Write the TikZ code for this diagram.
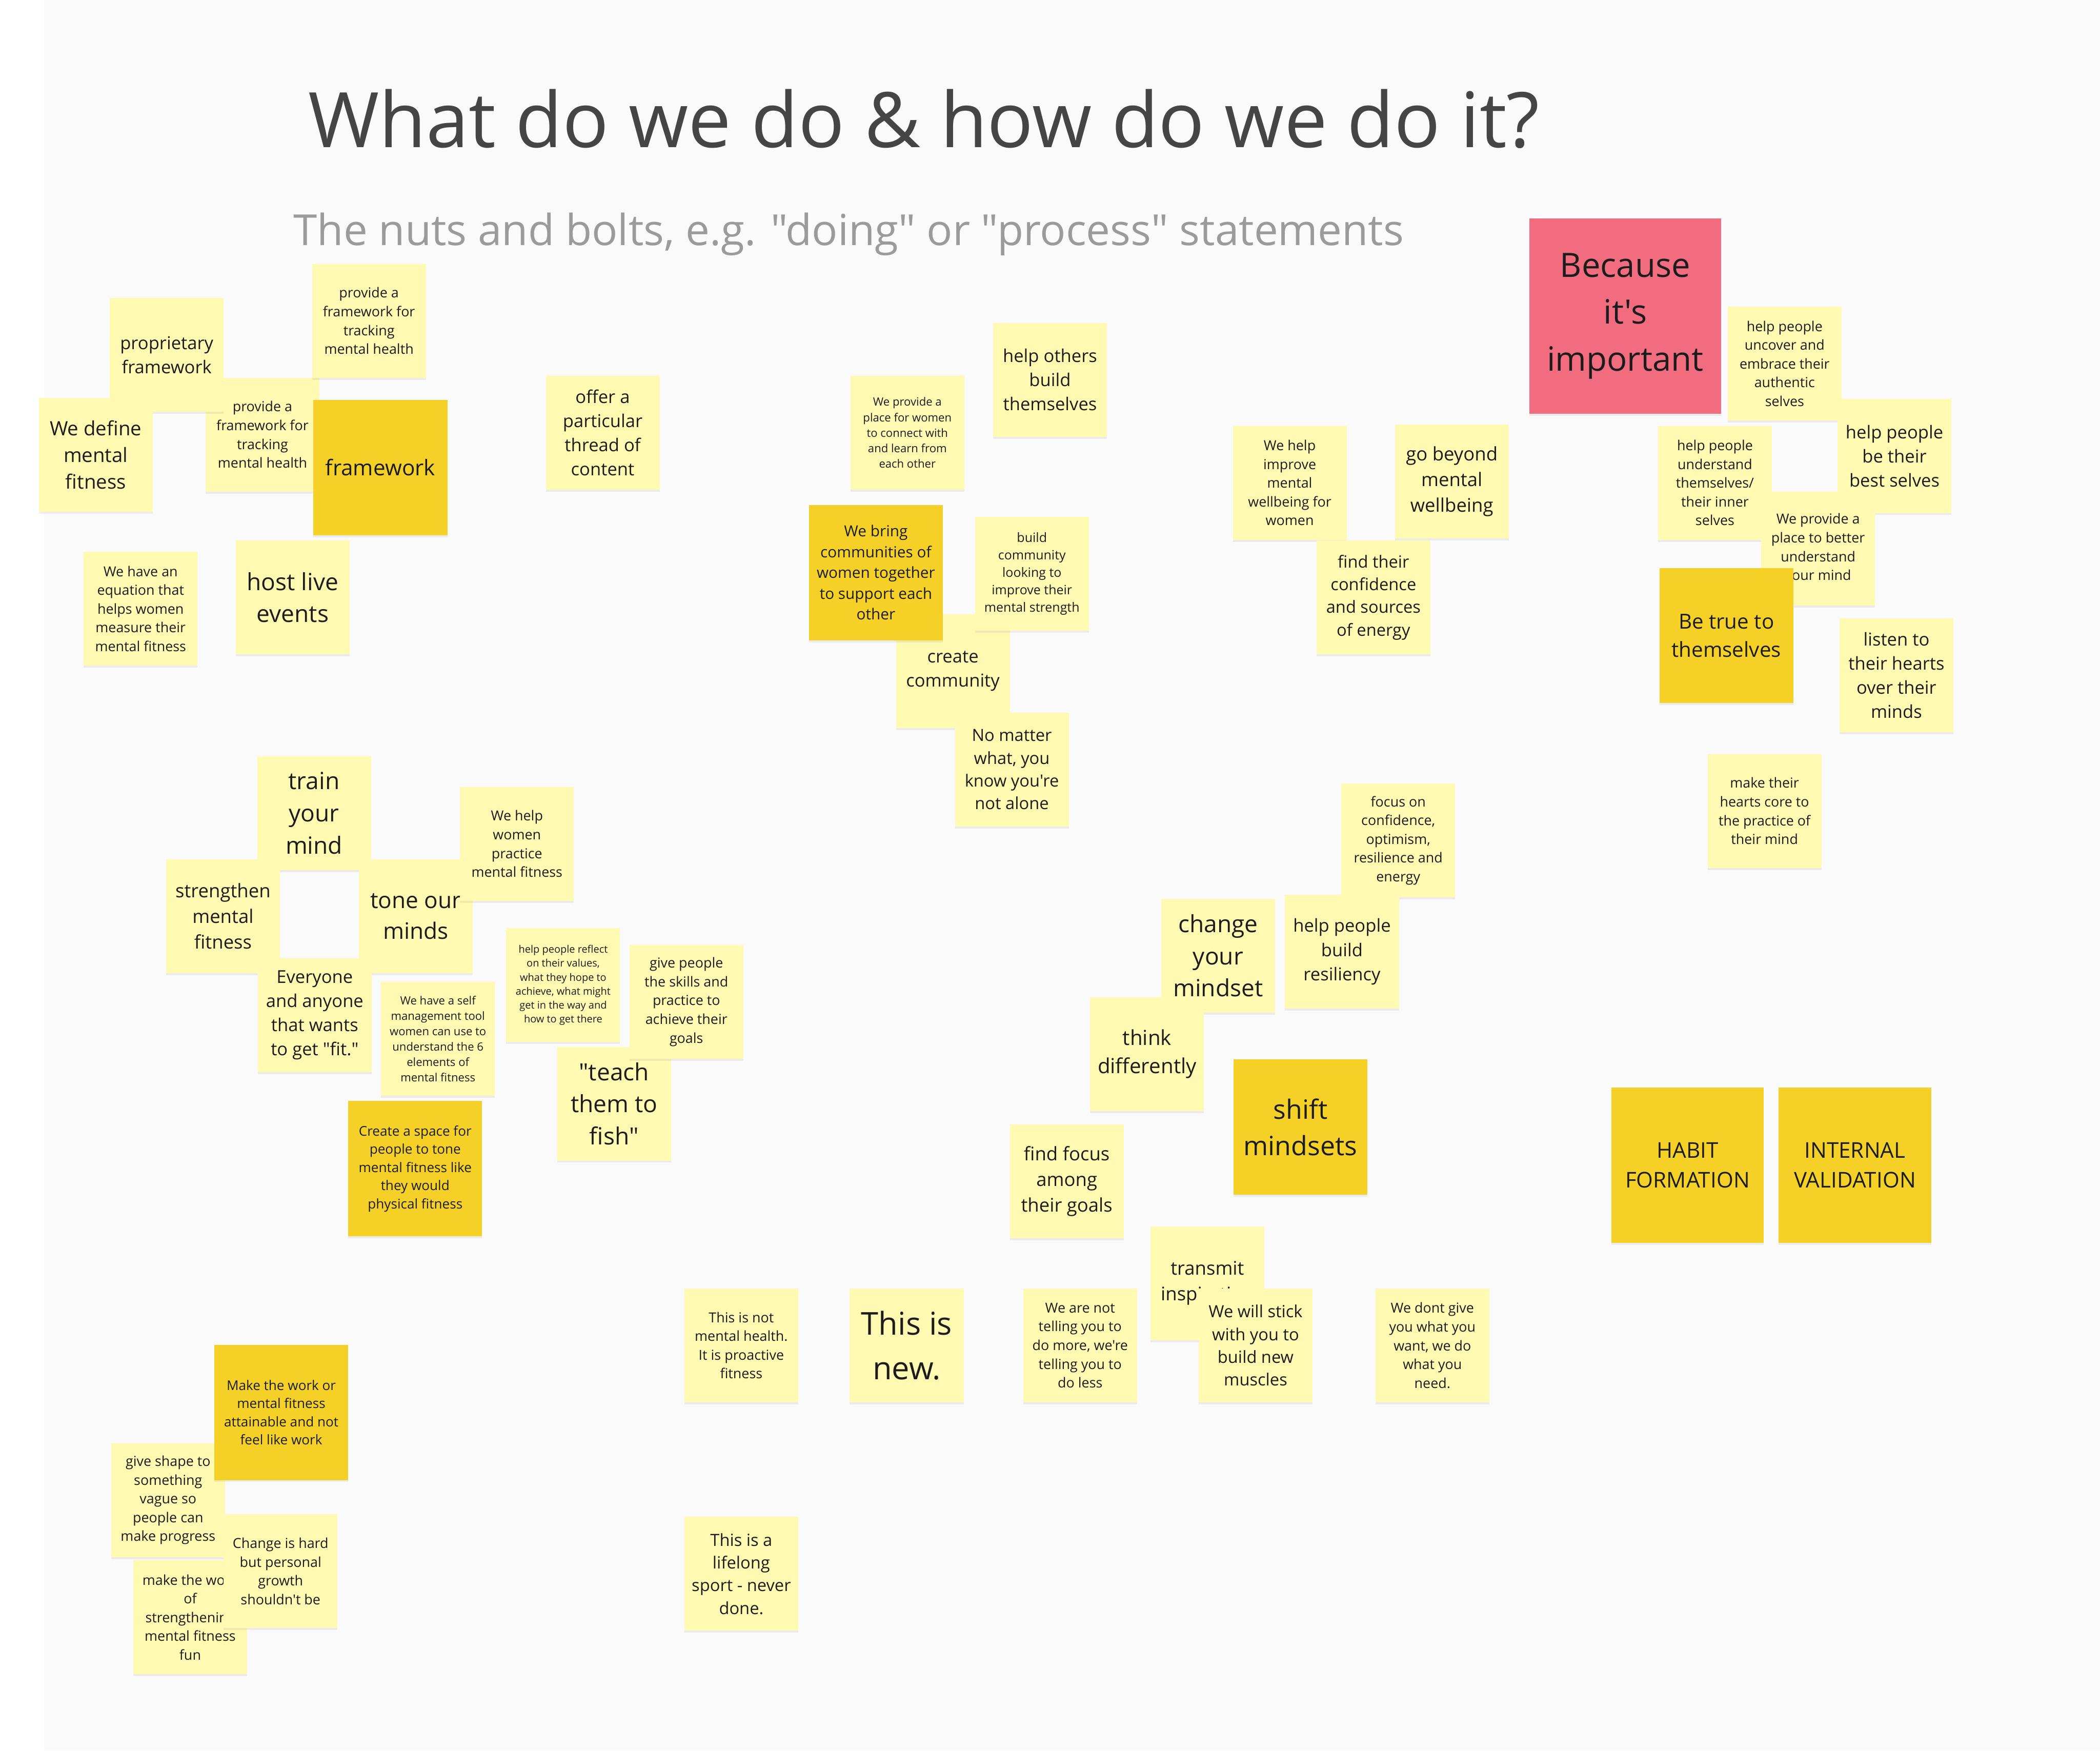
\documentclass[tikz,border=0pt]{standalone}
\usepackage{fontspec}
\setmainfont{Open Sans}[Ligatures=TeXOff]
\usepackage{tikz}
\usetikzlibrary{shadows}

\definecolor{board}{HTML}{FAFAFA}
\definecolor{notelight}{HTML}{FFF9B1}
\definecolor{notegold}{HTML}{F5D128}
\definecolor{notepink}{HTML}{F16C7F}
\definecolor{notetext}{HTML}{1C1C1C}
\definecolor{titlegray}{HTML}{454545}
\definecolor{subgray}{HTML}{9B9B9B}

% line spacing in px -> font size
\newcommand{\nf}[1]{\fontsize{\fpeval{#1/1.36}}{#1}\selectfont}

\begin{document}
\begin{tikzpicture}[x=1pt, y=-1pt,
  sticky/.style={rectangle, fill=notelight, minimum width=85pt, minimum height=85pt,
    inner sep=0pt, align=center, text=notetext,
    drop shadow={shadow xshift=0pt, shadow yshift=-1.5pt, opacity=0.12}},
  dsticky/.style={sticky, fill=notegold, minimum width=100pt, minimum height=101pt},
  bsticky/.style={sticky, fill=notegold, minimum width=114pt, minimum height=116pt},
  psticky/.style={sticky, fill=notepink, minimum width=143pt, minimum height=146pt},
  heading/.style={anchor=base west, inner sep=0pt}
]
  \useasboundingbox (0,0) rectangle (1568,1307);
  \fill[white] (0,0) rectangle (1568,1307);
  \fill[board] (33,0) rectangle (1568,1307);

  \node[heading, text=titlegray, font=\fontsize{57.2}{70}\selectfont] (title) at (230,110)
    {What do we do \& how do we do it?};
  \node[heading, text=subgray, font=\fontsize{32}{40}\selectfont] (subtitle) at (219,183)
    {The nuts and bolts, e.g. "doing" or "process" statements};

  % framework cluster
  \node[sticky, font=\nf{14}]   (trackB)    at (196,324.5) {provide a\\framework for\\tracking\\mental health};
  \node[sticky, font=\nf{18}]   (propfw)    at (124.5,265) {proprietary\\framework};
  \node[sticky, font=\nf{20}]   (wedefine)  at (71.5,339.5) {We define\\mental\\fitness};
  \node[sticky, font=\nf{14}]   (trackA)    at (275.5,239.5) {provide a\\framework for\\tracking\\mental health};
  \node[dsticky, font=\nf{22}]  (framework) at (284,349) {framework};
  \node[sticky, font=\nf{14}]   (equation)  at (105,454.5) {We have an\\equation that\\helps women\\measure their\\mental fitness};
  \node[sticky, font=\nf{24}]   (hostlive)  at (218.5,446) {host live\\events};
  \node[sticky, font=\nf{18}]   (thread)    at (450,323) {offer a\\particular\\thread of\\content};

  % community cluster
  \node[sticky, font=\nf{18}]   (helpothers) at (784,283.5) {help others\\build\\themselves};
  \node[sticky, font=\nf{11.5}] (placewomen) at (677.5,323) {We provide a\\place for women\\to connect with\\and learn from\\each other};
  \node[sticky, font=\nf{18}]   (create)     at (711.5,501) {create\\community};
  \node[dsticky, font=\nf{15.5}] (webring)   at (654,427.5) {We bring\\communities of\\women together\\to support each\\other};
  \node[sticky, font=\nf{13}]   (buildcomm)  at (770.5,428.5) {build\\community\\looking to\\improve their\\mental strength};
  \node[sticky, font=\nf{17}]   (nomatter)   at (755.5,574.5) {No matter\\what, you\\know you're\\not alone};

  % wellbeing cluster
  \node[sticky, font=\nf{14}]   (improve)    at (963,360.5) {We help\\improve\\mental\\wellbeing for\\women};
  \node[sticky, font=\nf{19}]   (beyond)     at (1084,359.5) {go beyond\\mental\\wellbeing};
  \node[sticky, font=\nf{17}]   (confidence) at (1025.5,446) {find their\\confidence\\and sources\\of energy};

  % why cluster
  \node[psticky, font=\fontsize{25}{35}\selectfont] (because) at (1213.5,236) {Because\\it's\\important};
  \node[sticky, font=\nf{14}]   (uncover)    at (1332.5,271.5) {help people\\uncover and\\embrace their\\authentic\\selves};
  \node[sticky, font=\nf{18}]   (bestselves) at (1414.5,340.5) {help people\\be their\\best selves};
  \node[sticky, font=\nf{14}]   (understand) at (1280.5,360.5) {help people\\understand\\themselves/\\their inner\\selves};
  \node[sticky, font=\nf{14}]   (placemind)  at (1357.5,409.5) {We provide a\\place to better\\understand\\your mind};
  \node[dsticky, font=\nf{21}]  (betrue)     at (1289,474.5) {Be true to\\themselves};
  \node[sticky, font=\nf{18}]   (listen)     at (1416,504) {listen to\\their hearts\\over their\\minds};
  \node[sticky, font=\nf{14}]   (hearts)     at (1317.5,605.5) {make their\\hearts core to\\the practice of\\their mind};
  \node[bsticky, font=\nf{22}]  (habit)      at (1260,870) {HABIT\\FORMATION};
  \node[bsticky, font=\nf{22}]  (internal)   at (1385,870) {INTERNAL\\VALIDATION};

  % training cluster
  \node[sticky, font=\nf{24}]   (train)      at (234.5,607) {train\\your\\mind};
  \node[sticky, font=\nf{19}]   (strengthen) at (166.5,684) {strengthen\\mental\\fitness};
  \node[sticky, font=\nf{23}]   (tone)       at (310.5,684) {tone our\\minds};
  \node[sticky, font=\nf{14}]   (helpwomen)  at (386,630) {We help\\women\\practice\\mental fitness};
  \node[sticky, font=\nf{18}]   (everyone)   at (235,758) {Everyone\\and anyone\\that wants\\to get "fit."};
  \node[sticky, font=\nf{11.5}] (selftool)   at (327,775.5) {We have a self\\management tool\\women can use to\\understand the 6\\elements of\\mental fitness};
  \node[sticky, font=\nf{10.4}] (reflect)    at (420.5,735.5) {help people reflect\\on their values,\\what they hope to\\achieve, what might\\get in the way and\\how to get there};
  \node[sticky, font=\nf{24}]   (teach)      at (458.5,824) {"teach\\them to\\fish"};
  \node[sticky, font=\nf{14}]   (giveskills) at (512.5,748) {give people\\the skills and\\practice to\\achieve their\\goals};
  \node[dsticky, font=\nf{13.6}] (createspace) at (310,872.5) {Create a space for\\people to tone\\mental fitness like\\they would\\physical fitness};

  % mindset cluster
  \node[sticky, font=\nf{14}]   (focus)      at (1044,627.5) {focus on\\confidence,\\optimism,\\resilience and\\energy};
  \node[sticky, font=\nf{18}]   (resiliency) at (1002,710.5) {help people\\build\\resiliency};
  \node[sticky, font=\nf{24}]   (mindset)    at (909.5,713.5) {change\\your\\mindset};
  \node[sticky, font=\nf{21}]   (think)      at (856.5,787) {think\\differently};
  \node[dsticky, font=\nf{27}]  (shift)      at (971,841.5) {shift\\mindsets};
  \node[sticky, font=\nf{19}]   (findfocus)  at (796.5,882) {find focus\\among\\their goals};

  % bottom row
  \node[sticky, font=\nf{14}]   (notmh)      at (553.5,1004.5) {This is not\\mental health.\\It is proactive\\fitness};
  \node[sticky, font=\fontsize{23.5}{33}\selectfont] (isnew) at (677,1004.5) {This is\\new.};
  \node[sticky, font=\nf{14}]   (doless)     at (806.5,1004.5) {We are not\\telling you to\\do more, we're\\telling you to\\do less};
  \node[sticky, font=\nf{19}]   (transmit)   at (901.5,958) {transmit\\inspiration};
  \node[sticky, font=\nf{17}]   (stick)      at (937.5,1004.5) {We will stick\\with you to\\build new\\muscles};
  \node[sticky, font=\nf{14}]   (dontgive)   at (1069.5,1004.5) {We dont give\\you what you\\want, we do\\what you\\need.};
  \node[sticky, font=\nf{17}]   (lifelong)   at (553.5,1175) {This is a\\lifelong\\sport - never\\done.};

  % work cluster
  \node[sticky, font=\nf{14}]   (giveshape)  at (125.5,1120) {give shape to\\something\\vague so\\people can\\make progress};
  \node[dsticky, font=\nf{13.6}] (makework)  at (210,1054.5) {Make the work or\\mental fitness\\attainable and not\\feel like work};
  \node[sticky, font=\nf{14}]   (makefun)    at (142,1207.5) {make the work\\of\\strengthening\\mental fitness\\fun};
  \node[sticky, font=\nf{14}]   (change)     at (209.5,1173) {Change is hard\\but personal\\growth\\shouldn't be};
\end{tikzpicture}
\end{document}
